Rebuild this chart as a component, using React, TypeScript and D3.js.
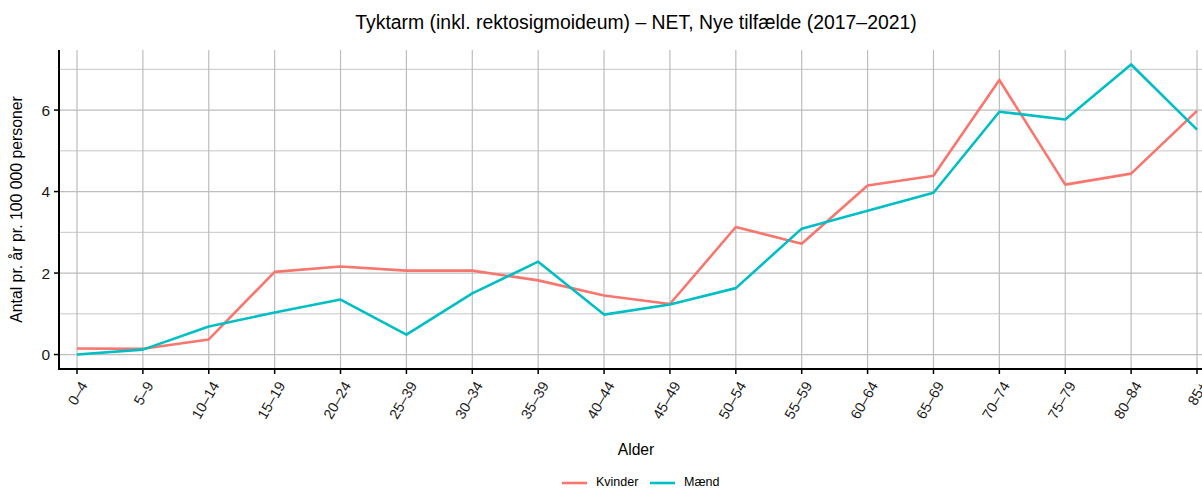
import React from 'react';
import * as d3 from 'd3';

const ageGroups = ['0–4', '5–9', '10–14', '15–19', '20–24', '25–39', '30–34', '35–39', '40–44', '45–49', '50–54', '55–59', '60–64', '65–69', '70–74', '75–79', '80–84', '85+'];
const kvinder = [0.15, 0.14, 0.37, 2.03, 2.16, 2.06, 2.06, 1.82, 1.45, 1.24, 3.13, 2.72, 4.15, 4.39, 6.74, 4.17, 4.44, 5.98];
const maend = [0.0, 0.12, 0.69, 1.03, 1.35, 0.49, 1.5, 2.28, 0.98, 1.23, 1.63, 3.09, 3.53, 3.97, 5.96, 5.77, 7.12, 5.52];
const yTicks = [0, 2, 4, 6];
const yMinor = [1, 3, 5, 7];

const series = [
  { name: 'Kvinder', values: kvinder, color: '#F8766D' },
  { name: 'Mænd', values: maend, color: '#00BFC4' },
];

const W = 1202;
const H = 489;
const font = '"Liberation Sans", Arial, sans-serif';

export default function App() {
  const left = 59, right = 1215, top = 50, bottom = 369;

  const x = d3.scalePoint<string>().domain(ageGroups).range([77, 1197]);
  const y = d3.scaleLinear().domain([-0.355, 7.475]).range([bottom, top]);

  const line = d3.line<number>()
    .x((_, i) => x(ageGroups[i])!)
    .y(d => y(d));

  return (
    <div style={{ position: 'fixed', left: 0, top: 0 }}>
      <svg width={W} height={H} style={{ display: 'block', fontFamily: font }}>
        <rect width={W} height={H} fill="#fff" />
        {/* grid */}
        {yMinor.map(t => (
          <line key={'m' + t} x1={left} x2={right} y1={y(t)} y2={y(t)} stroke="#c6c6c6" strokeWidth={1} />
        ))}
        {yTicks.map(t => (
          <line key={'g' + t} x1={left} x2={right} y1={y(t)} y2={y(t)} stroke="#bdbdbd" strokeWidth={1.2} />
        ))}
        {ageGroups.map(a => (
          <line key={'v' + a} x1={x(a)} x2={x(a)} y1={top} y2={bottom} stroke="#bdbdbd" strokeWidth={1.2} />
        ))}
        {/* lines */}
        {series.map(s => (
          <path key={s.name} d={line(s.values) || ''} fill="none" stroke={s.color} strokeWidth={2.6} strokeLinejoin="round" />
        ))}
        {/* axes */}
        <line x1={left} x2={left} y1={top} y2={bottom} stroke="#000" strokeWidth={2} />
        <line x1={left - 1} x2={right} y1={bottom} y2={bottom} stroke="#000" strokeWidth={2} />
        {yTicks.map(t => (
          <g key={'yt' + t}>
            <line x1={left - 5} x2={left} y1={y(t)} y2={y(t)} stroke="#000" strokeWidth={1.5} />
            <text x={left - 9} y={y(t)} dy="0.36em" textAnchor="end" fontSize={15.5} fill="#1a1a1a">{t}</text>
          </g>
        ))}
        {ageGroups.map(a => (
          <g key={'xt' + a}>
            <line x1={x(a)} x2={x(a)} y1={bottom} y2={bottom + 5} stroke="#000" strokeWidth={1.5} />
            <text transform={`translate(${x(a)! + 2},${bottom + 11}) rotate(-60)`} textAnchor="end" dy="0.72em" fontSize={14.5} fill="#1a1a1a">{a}</text>
          </g>
        ))}
        {/* titles */}
        <text x={636} y={29} textAnchor="middle" fontSize={19.4} fill="#000">Tyktarm (inkl. rektosigmoideum) – NET, Nye tilfælde (2017–2021)</text>
        <text x={636} y={455} textAnchor="middle" fontSize={15.7} fill="#000">Alder</text>
        <text transform={`translate(22,${(top + bottom) / 2}) rotate(-90)`} textAnchor="middle" fontSize={15.8} fill="#000">Antal pr. år pr. 100 000 personer</text>
        {/* legend */}
        {series.map((s, i) => {
          const lx = i === 0 ? 562 : 650;
          return (
            <g key={'lg' + s.name}>
              <line x1={lx} x2={lx + 25} y1={483} y2={483} stroke={s.color} strokeWidth={2.6} />
              <text x={lx + 34} y={482} dy="0.35em" fontSize={12.5} fill="#000">{s.name}</text>
            </g>
          );
        })}
      </svg>
    </div>
  );
}
